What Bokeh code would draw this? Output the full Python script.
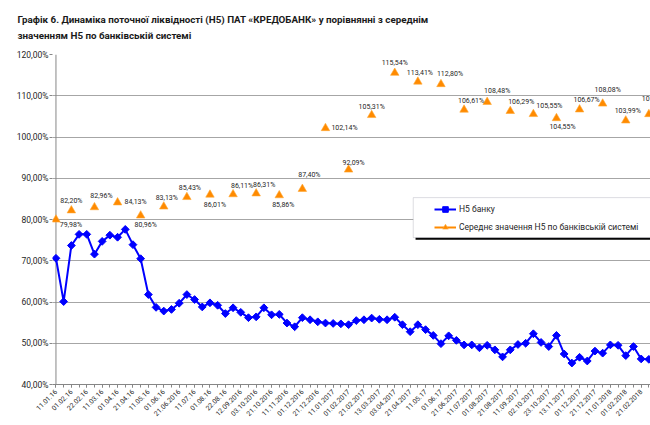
import math
from bokeh.plotting import figure
from bokeh.models import (Range1d, FixedTicker, ColumnDataSource, Span, Legend,
                          LegendItem, Title, BoxAnnotation)
from bokeh.core.properties import value
from bokeh.embed import file_html
from bokeh.resources import INLINE

# ---------------- data ----------------
title_line1 = "Графік 6.  Динаміка поточної ліквідності (Н5) ПАТ «КРЕДОБАНК» у порівнянні з середнім"
title_line2 = "значенням Н5 по банківській системі"

date_labels = [
    "11.01.16", "01.02.16", "22.02.16", "11.03.16", "01.04.16", "21.04.16",
    "11.05.16", "01.06.16", "21.06.2016", "11.07.16", "01.08.16", "22.08.16",
    "12.09.2016", "03.10.2016", "21.10.2016", "11.11.2016", "01.12.2016",
    "21.12.2016", "11.01.2017", "01.02.2017", "21.02.2017", "13.03.2017",
    "03.04.2017", "21.04.2017", "11.05.17", "01.06.17", "21.06.2017",
    "11.07.2017", "01.08.2017", "21.08.2017", "11.09.2017", "02.10.2017",
    "23.10.2017", "13.11.2017", "01.12.2017", "21.12.2017", "11.01.2018",
    "01.02.2018", "21.02.2018",
]
label_idx = [0, 2, 4, 6, 8, 10, 12, 14, 16, 18, 20, 22, 24, 26, 28, 30, 32, 34,
             36, 38, 40, 42, 44, 46, 48, 50, 52, 54, 56, 58, 60, 62, 64, 66, 68,
             70, 72, 74, 76]

bank_h5 = [70.6, 60.1, 73.7, 76.4, 76.4, 71.6, 74.7, 76.2, 75.7, 77.6,
           73.9, 70.5, 61.8, 58.7, 57.8, 58.2, 59.7, 61.8, 60.6, 58.8,
           59.8, 59.2, 57.2, 58.6, 57.5, 56.2, 56.4, 58.6, 56.9, 57.0,
           54.9, 54.0, 56.2, 55.7, 55.2, 54.9, 54.8, 54.7, 54.5, 55.5,
           55.7, 56.1, 55.8, 55.7, 56.3, 54.5, 52.8, 54.5, 53.3, 51.9,
           49.9, 51.8, 50.7, 49.6, 49.6, 48.9, 49.5, 48.4, 46.7, 48.4,
           49.7, 50.0, 52.3, 50.2, 49.2, 51.9, 47.4, 45.2, 46.6, 45.7,
           48.1, 47.6, 49.6, 49.5, 47.0, 49.2, 46.2, 46.1]
bank_idx = list(range(len(bank_h5)))

system_idx = [0, 2, 5, 8, 11, 14, 17, 20, 23, 26, 29, 32, 35, 38, 41, 44, 47,
              50, 53, 56, 59, 62, 65, 68, 71, 74, 77]
system_h5 = [79.98, 82.20, 82.96, 84.13, 80.96, 83.13, 85.43, 86.01, 86.11,
             86.31, 85.86, 87.40, 102.14, 92.09, 105.31, 115.54, 113.41,
             112.80, 106.61, 108.48, 106.29, 105.55, 104.55, 106.67, 108.08,
             103.99, 105.53]

y_ticks = [40, 50, 60, 70, 80, 90, 100, 110, 120]

# label placement (screen px offsets relative to marker) - style only
lab_dx = [15, 0, 7, 18, 5, 3, 3, 5, 9, 8, 4, 7, 19, 5, 0, 0, 2, 9, 7, 10, 11,
          16, 6, 7, 5, 2, 6]
lab_dy = [5, -9, -11, 0, 9, -9, -9, 10, -8, -8, 10, -14, 0, -7, -8, -10, -9,
          -10, -9, -11, -9, -8, 9, -9, -14, -10, -15]

# ---------------- styling ----------------
FONT = "Roboto"
BLUE = "#0000ff"
ORANGE = "#ff8a00"
GRID = "#a6a6a6"
TXT = "#262626"

W, H = 650, 425
ML, MT, MB = 52, 54, 41
PX_PER_IDX = 7.7
x0 = -0.45
x1 = x0 + (W - ML) / PX_PER_IDX

p = figure(width=W, height=H, output_backend="svg", toolbar_location=None,
           x_range=Range1d(x0, x1), y_range=Range1d(40, 120),
           min_border_left=ML, min_border_right=0, min_border_top=MT,
           min_border_bottom=MB, title=None)
p.outline_line_color = None
p.background_fill_color = "white"
p.border_fill_color = "white"

# titles (first added = closest to frame); a blank one keeps the gap
title_kw = dict(align="left", offset=17 - ML, text_font=FONT,
                text_font_size="9.8px", text_font_style="bold",
                text_color="#1a1a1a")
p.add_layout(Title(text=" ", standoff=0, **title_kw), "above")
p.add_layout(Title(text=title_line2, standoff=2, **title_kw), "above")
p.add_layout(Title(text=title_line1, standoff=4, **title_kw), "above")

# grid
p.xgrid.grid_line_color = None
p.ygrid.grid_line_color = GRID
p.ygrid.grid_line_width = 1
p.ygrid.ticker = FixedTicker(ticks=y_ticks)

# y axis
p.yaxis.ticker = FixedTicker(ticks=y_ticks)
p.yaxis.major_label_overrides = {t: f"{t:.2f}".replace(".", ",") + "%" for t in y_ticks}
p.yaxis.axis_line_color = None
p.yaxis.major_tick_line_color = "#868686"
p.yaxis.major_tick_out = 3
p.yaxis.major_tick_in = 0
p.yaxis.minor_tick_line_color = None
p.yaxis.major_label_standoff = 1
p.yaxis.major_label_text_font = FONT
p.yaxis.major_label_text_font_size = "8.5px"
p.yaxis.major_label_text_color = TXT

p.add_layout(Span(location=0, dimension="height", line_color="#868686",
                  line_width=1, level="underlay"))

# x axis
p.xaxis.ticker = FixedTicker(ticks=label_idx, minor_ticks=bank_idx)
p.xaxis.major_label_overrides = {i: s for i, s in zip(label_idx, date_labels)}
p.xaxis.major_label_orientation = math.pi / 4
p.xaxis.axis_line_color = "#868686"
p.xaxis.major_tick_line_color = "#868686"
p.xaxis.minor_tick_line_color = "#868686"
p.xaxis.major_tick_out = 3
p.xaxis.major_tick_in = 0
p.xaxis.minor_tick_out = 3
p.xaxis.minor_tick_in = 0
p.xaxis.major_label_standoff = 3
p.xaxis.major_label_text_font = FONT
p.xaxis.major_label_text_font_size = "6.8px"
p.xaxis.major_label_text_color = TXT

# series
bank_src = ColumnDataSource(dict(x=bank_idx, y=bank_h5))
sys_src = ColumnDataSource(dict(
    x=system_idx, y=system_h5,
    lab=[f"{v:.2f}".replace(".", ",") + "%" for v in system_h5],
    dx=lab_dx, dy=lab_dy))

bl = p.line("x", "y", source=bank_src, line_color=BLUE, line_width=2)
bm = p.scatter("x", "y", source=bank_src, marker="square", size=5.5,
               angle=math.pi / 4, fill_color=BLUE, line_color=BLUE)

# the bank-system series has markers only; this line exists only for the legend
ol = p.line(x=system_idx, y=[float("nan")] * len(system_idx),
            line_color=ORANGE, line_width=2)
om = p.scatter("x", "y", source=sys_src, marker="triangle", size=8.5,
               fill_color=ORANGE, line_color="#ffa733", line_width=0.6)

p.text("x", "y", text="lab", source=sys_src, x_offset="dx", y_offset="dy",
       text_align="center", text_baseline="middle", text_font=value(FONT),
       text_font_size="7px", text_color=TXT)

# legend frame (box with shadow)
p.add_layout(BoxAnnotation(left=46.7, right=x1 + 5, bottom=75.1, top=84.8,
                           fill_color="black", fill_alpha=1, line_color=None))
p.add_layout(BoxAnnotation(left=46.4, right=x1 + 5, bottom=75.6, top=85.3,
                           fill_color="white", fill_alpha=1,
                           line_color="#8a8a9a", line_width=1))

legend = Legend(items=[
    LegendItem(label="Н5 банку", renderers=[bl, bm]),
    LegendItem(label="Середнє значення Н5 по банківській системі", renderers=[ol, om]),
], location=(382, 150), orientation="vertical", padding=2, spacing=4,
    glyph_width=22, glyph_height=14, label_height=14, label_standoff=3,
    label_text_font=FONT, label_text_font_size="8.5px", label_text_color=TXT,
    border_line_color=None, background_fill_alpha=0)
p.add_layout(legend, "center")

open("out.html", "w").write(file_html(p, INLINE))
